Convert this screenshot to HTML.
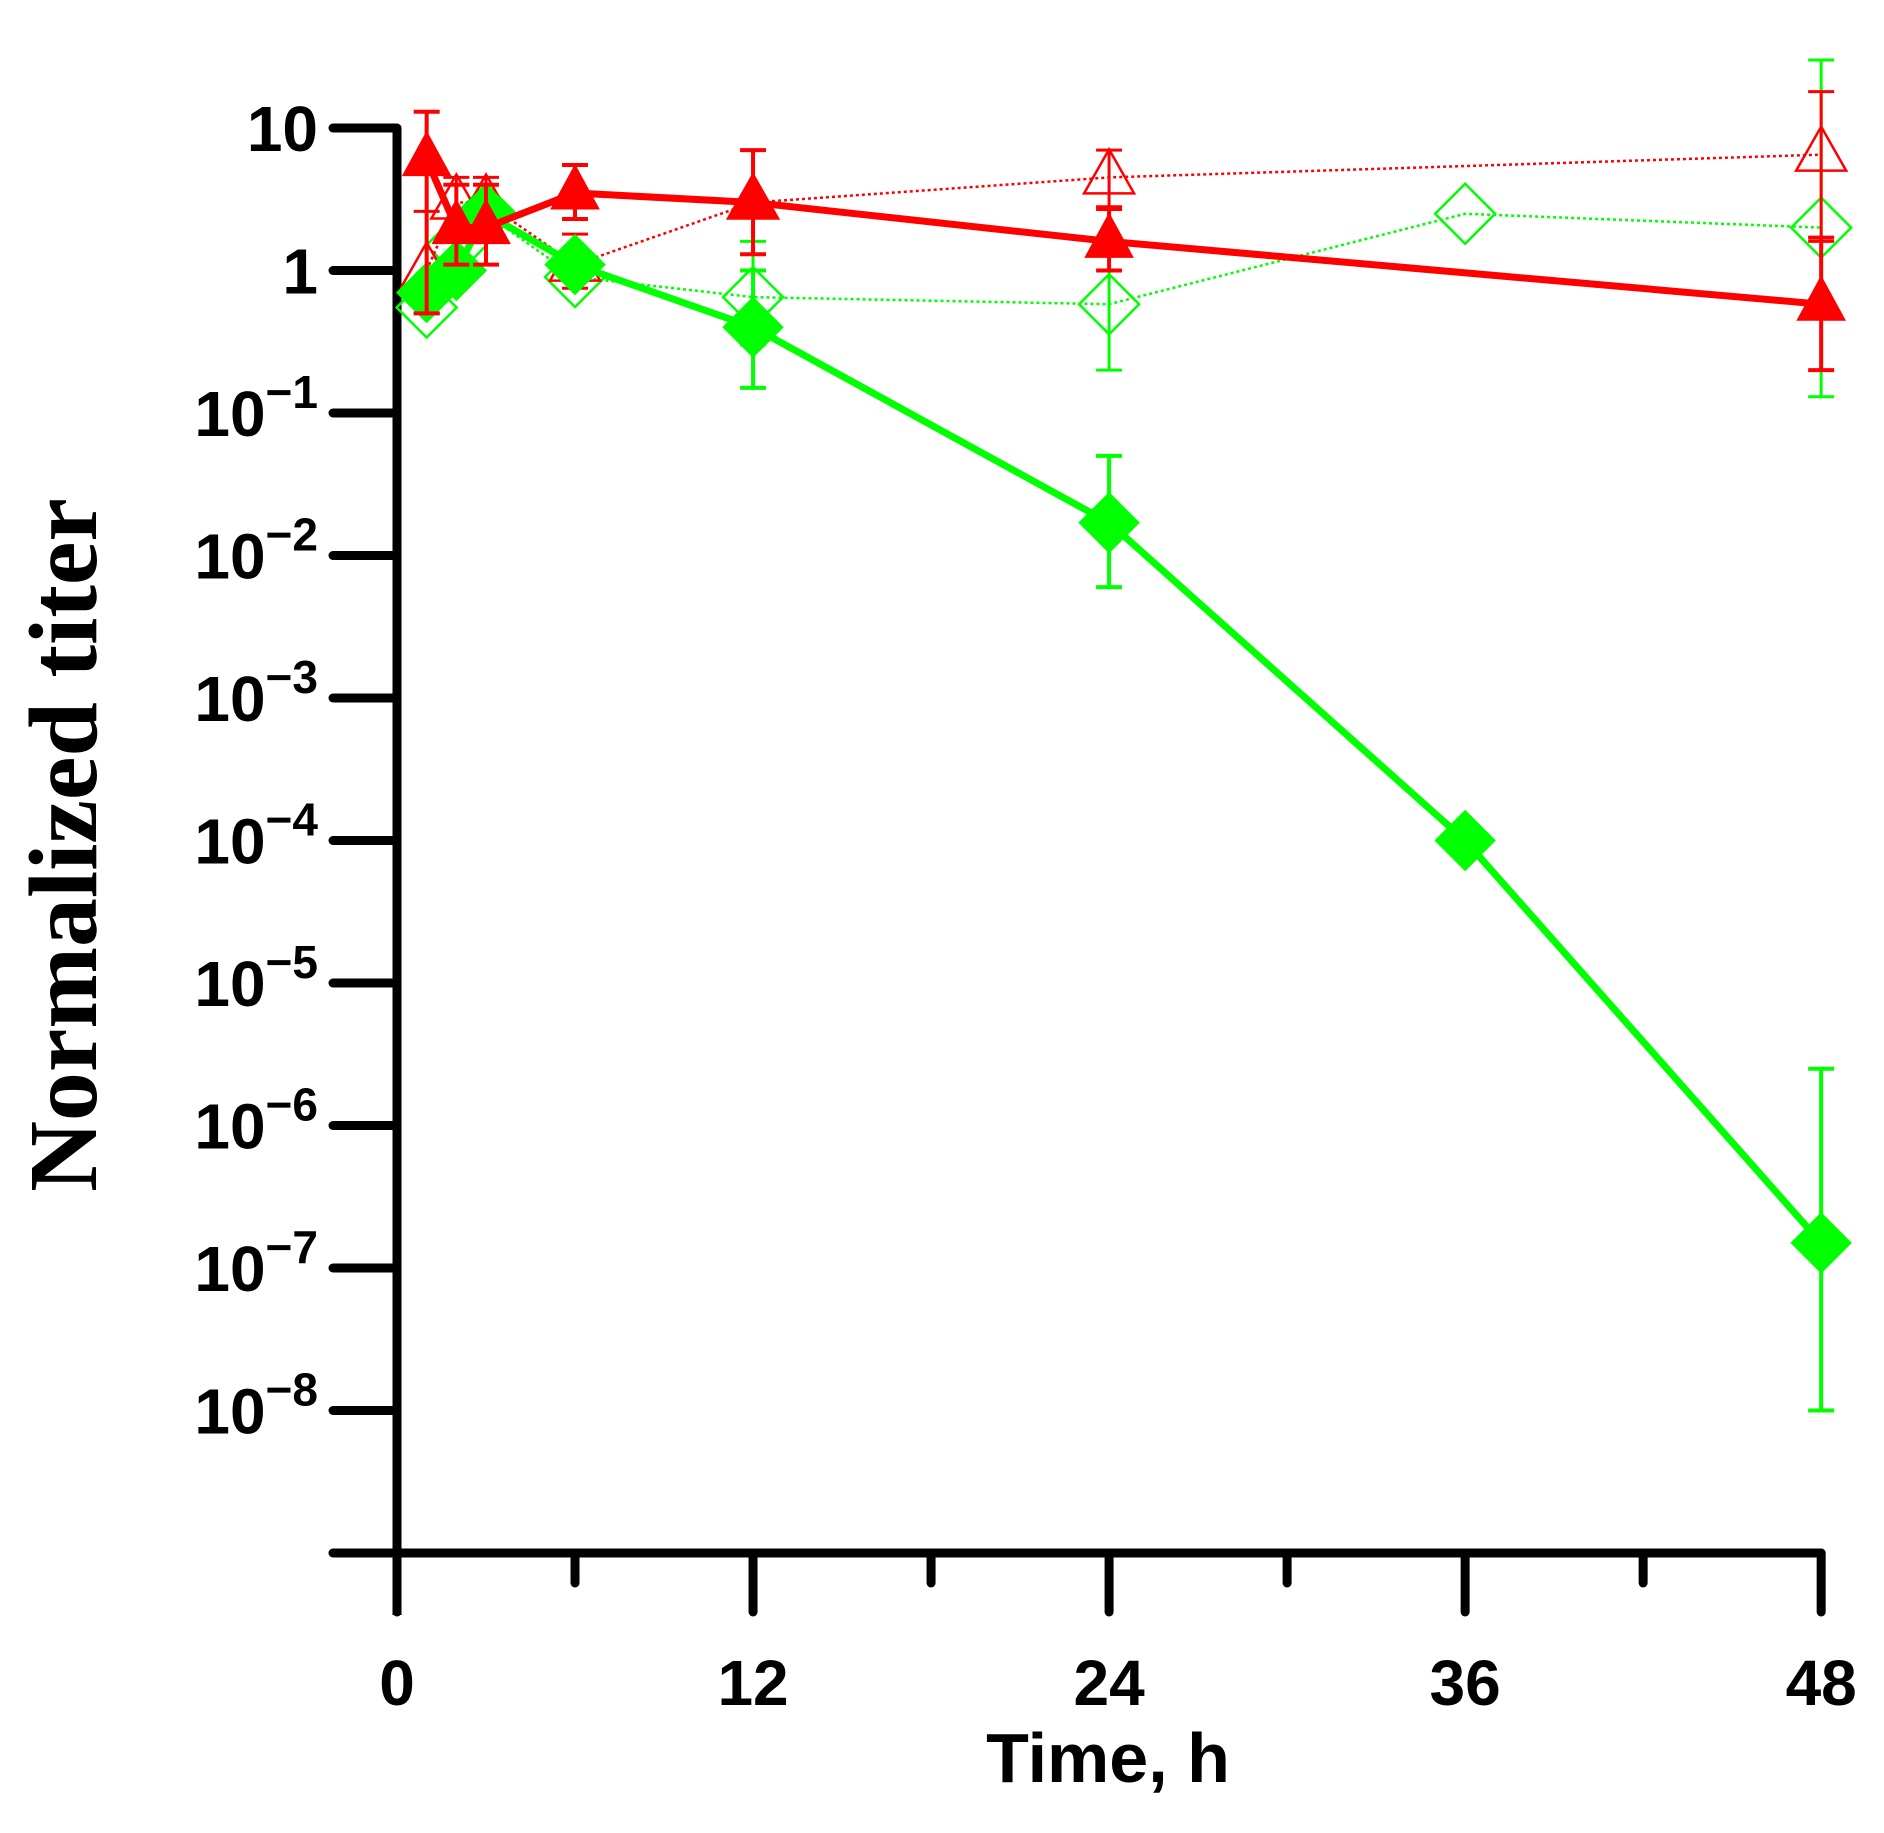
<!DOCTYPE html>
<html><head><meta charset="utf-8"><style>
html,body{margin:0;padding:0;background:#fff;}
svg{display:block;}
text{font-family:"Liberation Sans",Arial,sans-serif;font-weight:bold;fill:#000;}
</style></head><body>
<svg id="chart" width="1884" height="1833" viewBox="0 0 1884 1833" xmlns="http://www.w3.org/2000/svg">
<g id="axes"></g>
<g id="series"></g>
<text x="1108" y="1782" text-anchor="middle" font-size="70">Time, h</text>
<text transform="translate(96,845) rotate(-90)" text-anchor="middle" font-size="98" style="font-family:'Liberation Serif',serif;font-weight:bold;">Normalized titer</text>
</svg>
<script>
const xTicksMajor = [0, 12, 24, 36, 48];
const xTicksMinor = [6, 18, 30, 42];
const yDecades = [1, 0, -1, -2, -3, -4, -5, -6, -7, -8];

const gfT = [1, 2, 3, 6, 12, 24, 36, 48];
const gfV = [0.7, 1.0, 2.5, 1.1, 0.4, 0.017, 1e-4, 1.5e-7];
const gfLo = [null, null, null, null, 0.15, 0.006, null, 1e-8];
const gfHi = [null, null, null, null, 1.0, 0.05, null, 2.5e-6];

const goT = [1, 2, 3, 6, 12, 24, 36, 48];
const goV = [0.55, 1.5, 2.5, 0.9, 0.65, 0.58, 2.5, 2.0];
const goLo = [0.5, null, null, null, 0.3, 0.2, null, 0.13];
const goHi = [0.7, null, null, null, 1.6, 1.6, null, 30];

const rfT = [1, 2, 3, 6, 12, 24, 48];
const rfV = [6, 2.0, 2.0, 3.5, 3.0, 1.6, 0.58];
const rfLo = [0.5, 1.1, 1.1, 2.3, 1.3, 1.0, 0.2];
const rfHi = [13, 4, 4, 5.5, 7, 2.7, 1.7];

const roT = [1, 2, 3, 6, 12, 24, 48];
const roV = [1.0, 3.0, 3.0, 1.1, 3.0, 4.5, 6.5];
const roLo = [0.5, null, null, 0.75, null, 2.8, 1.6];
const roHi = [2.6, 4.5, 4.5, 1.8, null, 7, 18];

const NS = "http://www.w3.org/2000/svg";
const X0 = 397, PXH = 29.67, Y10 = 128, DEC = 142.5;
function xs(t){ return X0 + t * PXH; }
function ys(v){ return Y10 + (1 - Math.log10(v)) * DEC; }
function mk(tag, attrs, parent){ const e = document.createElementNS(NS, tag); for (const k in attrs) e.setAttribute(k, attrs[k]); parent.appendChild(e); return e; }

const axes = document.getElementById('axes');
const yAxisLine = mk('line', {x1:X0, y1:Y10, x2:X0, y2:1615, stroke:'#000', 'stroke-width':9}, axes);


const xAxisLine = mk('line', {x1:333, y1:1553, x2:xs(48), y2:1553, stroke:'#000', 'stroke-width':9, 'stroke-linecap':'round'}, axes);



yDecades.forEach(d => {
  const y = ys(Math.pow(10, d));
  const t = mk('line', {x1:333, y1:y, x2:X0, y2:y, stroke:'#000', 'stroke-width':9, 'stroke-linecap':'round'}, axes);
  
  
  const tx = mk('text', {x:318, y:y + 23, 'text-anchor':'end', 'font-size':64}, axes);
  
  
  if (d === 1) tx.textContent = '10';
  else if (d === 0) tx.textContent = '1';
  else {
    const b = mk('tspan', {}, tx); b.textContent = '10';
    const s = mk('tspan', {'font-size':46, dy:-28}, tx); s.textContent = '\u2212' + (-d);
  }
});
xTicksMajor.forEach(t => {
  const x = xs(t);
  const l = mk('line', {x1:x, y1:1553, x2:x, y2:1612, stroke:'#000', 'stroke-width':9, 'stroke-linecap':'round'}, axes);
  
  
  const tx = mk('text', {x:x, y:1705, 'text-anchor':'middle', 'font-size':64}, axes);
  
  
  tx.textContent = String(t);
});
xTicksMinor.forEach(t => {
  const x = xs(t);
  const l = mk('line', {x1:x, y1:1553, x2:x, y2:1583, stroke:'#000', 'stroke-width':9, 'stroke-linecap':'round'}, axes);
  
  
});

const ser = document.getElementById('series');
function drawSeries(name, T, V, LO, HI, color, solid, shape, filled){
  const g = mk('g', {}, ser);
  
  
  const pts = T.map((t, i) => xs(t) + ',' + ys(V[i])).join(' ');
  const pl = mk('polyline', {points:pts, fill:'none', stroke:color, 'stroke-width':solid ? 7 : 2.5, 'stroke-dasharray':solid ? 'none' : '3,3'}, g);
  
  
  T.forEach((t, i) => {
    const x = xs(t);
    if (LO[i] !== null || HI[i] !== null) {
      const lo = LO[i] !== null ? LO[i] : V[i], hi = HI[i] !== null ? HI[i] : V[i];
      const eb = mk('path', {d:'M' + x + ',' + ys(hi) + 'V' + ys(lo) + (HI[i] !== null ? 'M' + (x-13) + ',' + ys(hi) + 'H' + (x+13) : '') + (LO[i] !== null ? 'M' + (x-13) + ',' + ys(lo) + 'H' + (x+13) : ''), stroke:color, 'stroke-width':filled ? 4 : 3, fill:'none'}, g);
      
      
    }
    const y = ys(V[i]);
    let d;
    if (shape === 'tri') { const w = filled ? 24 : 25; d = 'M' + x + ',' + (y-28) + 'L' + (x+w) + ',' + (y+16) + 'L' + (x-w) + ',' + (y+16) + 'Z'; }
    else { const r = 30; d = 'M' + x + ',' + (y-r) + 'L' + (x+r) + ',' + y + 'L' + x + ',' + (y+r) + 'L' + (x-r) + ',' + y + 'Z'; }
    const m = mk('path', {d:d, fill:filled ? color : 'none', stroke:color, 'stroke-width':filled ? 1 : 2.5}, g);
    
    
  });
}
drawSeries('green-open-series', goT, goV, goLo, goHi, '#00ff00', false, 'dia', false);
drawSeries('red-open-series', roT, roV, roLo, roHi, '#ff0000', false, 'tri', false);
drawSeries('green-filled-series', gfT, gfV, gfLo, gfHi, '#00ff00', true, 'dia', true);
drawSeries('red-filled-series', rfT, rfV, rfLo, rfHi, '#ff0000', true, 'tri', true);
</script>
</body></html>
